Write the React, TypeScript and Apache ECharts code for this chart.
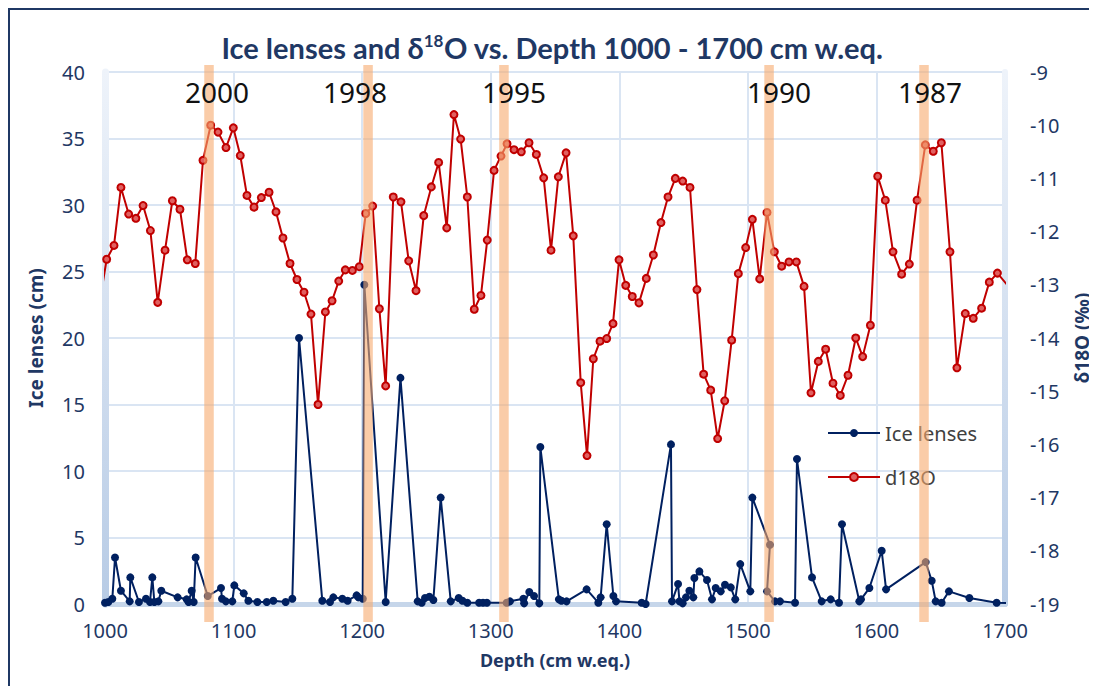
import React, { useEffect, useRef } from 'react';
import * as echarts from 'echarts';

// Ice lenses (cm) vs depth (cm w.eq.)
const iceDepth = [1000, 1002.6, 1005.7, 1007.8, 1012.4, 1019.2, 1019.7, 1026.4, 1031.9, 1035, 1036.8, 1038.4, 1041.5, 1043.8, 1056.5, 1063.5, 1065, 1067.4, 1069, 1070.5, 1079.9, 1090.2, 1091, 1094, 1099, 1100.6, 1107.9, 1111.5, 1118.5, 1125.8, 1130.9, 1140.5, 1145.7, 1150.9, 1169, 1175, 1177.6, 1184.6, 1188.7, 1195.7, 1197, 1200.5, 1201.7, 1218.3, 1229.8, 1243.2, 1246.3, 1248.9, 1252.3, 1255.4, 1261.1, 1268.9, 1275.1, 1278, 1281.8, 1291, 1294, 1297, 1312.4, 1315, 1325.4, 1326, 1330, 1333.7, 1337.8, 1338.6, 1353, 1355, 1359, 1374.6, 1383.7, 1385.5, 1390.2, 1395.4, 1397.5, 1417.4, 1420.5, 1440.2, 1441, 1445.7, 1446.8, 1449.3, 1451.9, 1454.5, 1457.6, 1458.4, 1462.3, 1468.2, 1472.1, 1475, 1478.9, 1482.2, 1486.7, 1490.2, 1494.1, 1501.9, 1503.5, 1517.2, 1514.9, 1521.1, 1525, 1536.7, 1538.2, 1549.9, 1557.4, 1564.4, 1570.9, 1573.2, 1586.7, 1588, 1594.5, 1604.1, 1607.5, 1638.3, 1643, 1646.1, 1650.7, 1656.4, 1672.3, 1693.5, 1705];
const iceValue = [0.1, 0.15, 0.4, 3.5, 1.0, 0.2, 2.0, 0.15, 0.4, 0.15, 2.0, 0.15, 0.2, 1.0, 0.5, 0.35, 0.15, 1.0, 0.15, 3.5, 0.6, 1.2, 0.4, 0.2, 0.2, 1.4, 0.8, 0.25, 0.15, 0.15, 0.25, 0.15, 0.4, 20, 0.25, 0.15, 0.5, 0.4, 0.25, 0.65, 0.5, 0.4, 24, 0.15, 17, 0.2, 0.1, 0.45, 0.55, 0.3, 8.0, 0.2, 0.45, 0.25, 0.1, 0.1, 0.1, 0.1, 0.1, 0.2, 0.4, 0.05, 0.9, 0.6, 0.05, 11.8, 0.35, 0.25, 0.2, 1.1, 0.1, 0.5, 6.0, 0.6, 0.2, 0.1, 0.0, 12.0, 0.2, 1.5, 0.2, 0.05, 0.5, 1.0, 0.5, 1.95, 2.45, 1.8, 0.35, 1.2, 0.95, 1.45, 1.25, 0.35, 3.0, 0.95, 8.0, 4.45, 0.95, 0.2, 0.2, 0.1, 10.9, 2.0, 0.2, 0.35, 0.1, 6.0, 0.2, 0.35, 1.2, 4.0, 1.1, 3.15, 1.75, 0.2, 0.1, 0.95, 0.45, 0.1, 0.05];

// d18O (‰) vs depth (cm w.eq.)
const d18oDepth = [996, 1001.3, 1007, 1012.4, 1018.4, 1024, 1029.6, 1035.3, 1041, 1046.7, 1052.4, 1058.3, 1064, 1070.2, 1076.2, 1082.2, 1087.9, 1094.1, 1099.8, 1105.2, 1110.4, 1115.9, 1121.6, 1127.6, 1133, 1138.4, 1143.9, 1149.3, 1154.8, 1160.2, 1165.7, 1171.4, 1176.6, 1181.8, 1186.9, 1192.4, 1197.8, 1202.8, 1208.2, 1213.4, 1218.3, 1224.2, 1230.2, 1236.2, 1241.9, 1247.9, 1253.8, 1259.5, 1265.8, 1271.4, 1276.6, 1281.8, 1287.2, 1292.4, 1297.3, 1302.6, 1308, 1312.7, 1318.1, 1323.8, 1329.8, 1335.5, 1341.2, 1346.9, 1352.6, 1358.6, 1364.2, 1370, 1374.9, 1379.8, 1385, 1390.2, 1395.1, 1399.8, 1405, 1410.1, 1415.3, 1421, 1426.5, 1432.4, 1437.9, 1443.6, 1449.3, 1455, 1460.4, 1465.6, 1471.1, 1476.5, 1482, 1487.4, 1492.6, 1498.3, 1503.5, 1509.2, 1514.9, 1520.6, 1526.3, 1532, 1537.7, 1543.7, 1549.1, 1554.8, 1560.5, 1566.2, 1571.9, 1577.9, 1583.9, 1589.3, 1595.3, 1601, 1606.9, 1612.9, 1619.6, 1625.6, 1631.6, 1638, 1644.2, 1650.5, 1657.2, 1662.6, 1669.1, 1675.3, 1681.8, 1687.8, 1694.1, 1705];
const d18oValue = [-13.3, -12.52, -12.26, -11.17, -11.67, -11.75, -11.51, -11.98, -13.33, -12.35, -11.42, -11.58, -12.53, -12.6, -10.66, -10.0, -10.13, -10.42, -10.05, -10.57, -11.32, -11.54, -11.36, -11.26, -11.63, -12.12, -12.6, -12.9, -13.14, -13.55, -15.25, -13.51, -13.3, -12.93, -12.72, -12.73, -12.66, -11.66, -11.52, -13.45, -14.9, -11.35, -11.44, -12.55, -13.11, -11.7, -11.16, -10.7, -11.93, -9.8, -10.26, -11.35, -13.46, -13.2, -12.16, -10.85, -10.58, -10.35, -10.46, -10.5, -10.33, -10.55, -10.99, -12.35, -10.97, -10.52, -12.08, -14.84, -16.21, -14.39, -14.06, -14.01, -13.73, -12.53, -13.01, -13.22, -13.34, -12.88, -12.44, -11.83, -11.35, -11.0, -11.05, -11.17, -13.09, -14.68, -14.98, -15.89, -15.18, -14.04, -12.79, -12.3, -11.77, -12.89, -11.64, -12.38, -12.65, -12.57, -12.57, -13.03, -15.03, -14.44, -14.21, -14.85, -15.08, -14.7, -14.0, -14.35, -13.76, -10.96, -11.41, -12.38, -12.8, -12.61, -11.41, -10.37, -10.49, -10.33, -12.38, -14.56, -13.54, -13.63, -13.44, -12.95, -12.78, -13.1];

// Year markers (depth of the highlighted bands and their labels)
const bandDepths = [1080.9, 1204.6, 1310.3, 1516.5, 1637];
const bandYears = ['2000', '1998', '1995', '1990', '1987'];
const yearLabelDepths = [1087.1, 1194.4, 1318.1, 1524.2, 1641.7];

const NAVY = '#002060';
const TEXT = '#1F3864';
const RED = '#C00000';
const BAND_W = 7.4;

export default function App() {
  const ref = useRef<HTMLDivElement>(null);
  useEffect(() => {
    if (!ref.current) return;
    const chart = echarts.init(ref.current, undefined, { renderer: 'svg' });
    const iceData = iceDepth.map((d, i) => [d, iceValue[i]]);
    const d18Data = d18oDepth.map((d, i) => [d, d18oValue[i]]);
    const wall = new echarts.graphic.LinearGradient(0, 64, 0, 596, [
      { offset: 0, color: '#EEF3FA' },
      { offset: 1, color: '#B7CBE5' },
    ], true);
    chart.setOption({
      animation: false,
      backgroundColor: '#fff',
      title: {
        text: 'Ice lenses and δ{sup|18}O vs. Depth 1000 - 1700 cm w.eq.',
        left: 'center',
        top: 19,
        textStyle: {
          fontFamily: 'Lato',
          fontWeight: 'bold',
          fontSize: 29,
          color: TEXT,
          rich: {
            sup: { fontFamily: 'Lato', fontWeight: 'bold', fontSize: 17, color: TEXT, verticalAlign: 'top', padding: [0, 0, 13, 0] },
          },
        },
      },
      graphic: [
        { type: 'line', shape: { x1: 1, y1: 0, x2: 1, y2: 700 }, style: { stroke: '#1F3864', lineWidth: 2 } },
        { type: 'line', shape: { x1: 0, y1: 1, x2: 1100, y2: 1 }, style: { stroke: '#1F3864', lineWidth: 2 } },
      ],
      legend: {
        data: ['Ice lenses', 'd18O'],
        orient: 'vertical',
        left: 814,
        top: 410,
        itemWidth: 52,
        itemHeight: 10,
        itemGap: 24,
        textStyle: { fontFamily: 'Noto Sans', fontSize: 20, lineHeight: 20, color: '#404040' },
      },
      grid: { left: 97, right: 92, top: 64, bottom: 82, outerBoundsMode: 'none', containLabel: false },
      xAxis: {
        type: 'value',
        min: 1000,
        max: 1700,
        interval: 100,
        name: 'Depth (cm w.eq.)',
        nameLocation: 'middle',
        nameGap: 47,
        nameTextStyle: { fontFamily: 'Noto Sans', fontWeight: 'bold', fontSize: 18, color: TEXT },
        axisLine: { show: true, lineStyle: { color: '#C6D6EA', width: 5 } },
        axisTick: { show: false },
        axisLabel: { fontFamily: 'Noto Sans', fontSize: 20, color: TEXT, margin: 16, formatter: (v: number) => String(v) },
        splitLine: { show: true, lineStyle: { color: '#DAE5F3', width: 2 } },
      },
      yAxis: [
        {
          type: 'value',
          min: 0,
          max: 40,
          interval: 5,
          name: 'Ice lenses (cm)',
          nameLocation: 'middle',
          nameRotate: 90,
          nameGap: 60,
          nameTextStyle: { fontFamily: 'Noto Sans', fontWeight: 'bold', fontSize: 19, color: TEXT },
          axisLine: { show: true, lineStyle: { color: wall, width: 7 } },
          axisTick: { show: false },
          axisLabel: { fontFamily: 'Noto Sans', fontSize: 20, color: TEXT, margin: 20 },
          splitLine: { show: true, lineStyle: { color: '#DAE5F3', width: 2 } },
        },
        {
          type: 'value',
          min: -19,
          max: -9,
          interval: 1,
          position: 'right',
          name: 'δ18O (‰)',
          nameLocation: 'middle',
          nameRotate: 90,
          nameGap: 67,
          nameTextStyle: { fontFamily: 'Noto Sans', fontWeight: 'bold', fontSize: 19, color: TEXT },
          axisLine: { show: true, lineStyle: { color: wall, width: 6 } },
          axisTick: { show: false },
          axisLabel: { fontFamily: 'Noto Sans', fontSize: 20, color: TEXT, margin: 25 },
          splitLine: { show: false },
        },
      ],
      series: [
        {
          name: 'Ice lenses',
          type: 'line',
          yAxisIndex: 0,
          data: iceData,
          symbol: 'circle',
          symbolSize: 8,
          lineStyle: { color: NAVY, width: 2 },
          itemStyle: { color: NAVY },
          z: 3,
        },
        {
          name: 'd18O',
          type: 'line',
          yAxisIndex: 1,
          data: d18Data,
          symbol: 'circle',
          symbolSize: 7,
          lineStyle: { color: RED, width: 2 },
          itemStyle: { color: '#E06060', borderColor: RED, borderWidth: 2 },
          z: 4,
        },
        {
          type: 'custom',
          name: 'bands',
          yAxisIndex: 0,
          z: 10,
          silent: true,
          clip: false,
          data: bandDepths.map((d) => [d, 0]),
          renderItem: (params: any, api: any) => {
            const d = api.value(0);
            const a = api.coord([d - BAND_W / 2, 40]);
            const b = api.coord([d + BAND_W / 2, 0]);
            return {
              type: 'rect',
              shape: { x: a[0], y: a[1] - 7, width: b[0] - a[0], height: b[1] - a[1] + 25 },
              style: { fill: 'rgba(247,170,110,0.6)' },
            };
          },
        },
        {
          type: 'custom',
          name: 'years',
          yAxisIndex: 0,
          z: 11,
          silent: true,
          clip: false,
          data: yearLabelDepths.map((d) => [d, 38.5]),
          renderItem: (params: any, api: any) => {
            const p = api.coord([api.value(0), api.value(1)]);
            return {
              type: 'text',
              x: p[0],
              y: p[1],
              style: {
                text: bandYears[params.dataIndex],
                fontFamily: 'Noto Sans',
                fontSize: 28,
                fill: '#111111',
                align: 'center',
                verticalAlign: 'middle',
              },
            };
          },
        },
      ],
    });
    return () => chart.dispose();
  }, []);
  return <div ref={ref} style={{ width: 1089, height: 678 }} />;
}
